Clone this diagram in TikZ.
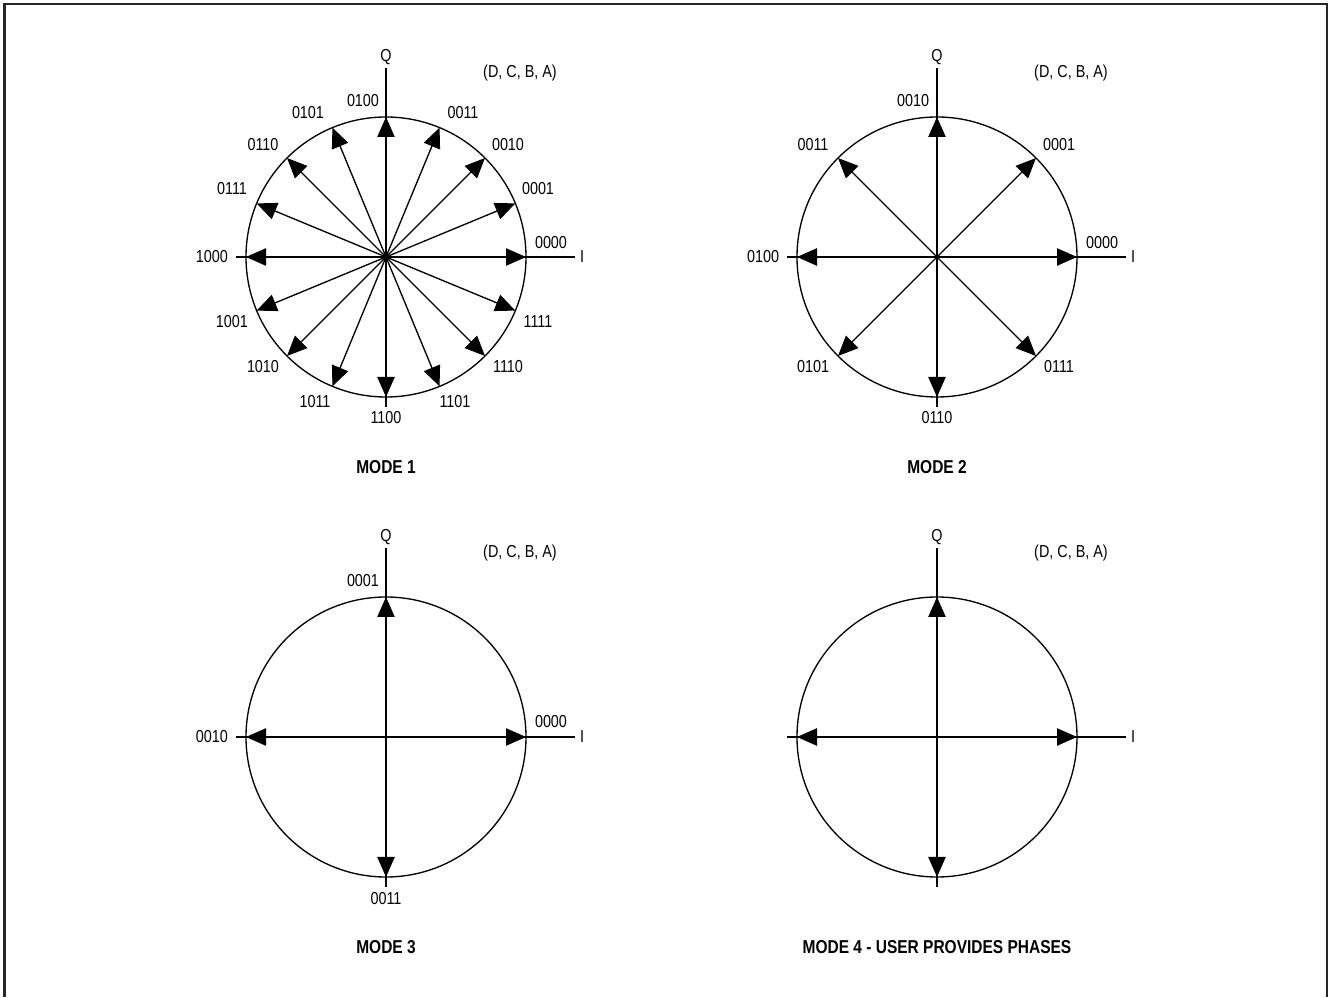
\documentclass[tikz,border=0pt]{standalone}
\usepackage{fontspec}
\setmainfont{Liberation Sans}[FakeStretch=0.83]
\usetikzlibrary{arrows.meta}

\begin{document}
\begin{tikzpicture}[x=0.75pt, y=0.75pt, font=\fontsize{13}{15}\selectfont,
	ring/.style={line width=1pt},
	iqaxis/.style={line width=1pt},
	vec/.style={-{Triangle[length=15pt, width=13pt]}, line width=1pt},
	modetitle/.style={font=\fontsize{14}{16}\selectfont\bfseries}]
	\useasboundingbox (0,0) rectangle (1329,997);
	\draw[line width=2pt, black!85] (4.5,0) -- (4.5,993) -- (1327,993) -- (1327,0);
	% circle, axes and names, the same in all four
	\foreach \n/\cx/\cy in {1/386/740, 2/937/740, 3/386/260, 4/937/260} {
		\begin{scope}[shift={(\cx,\cy)}]
			\coordinate (m\n) at (0,0);
			\draw[ring] (0,0) circle (140);
			\draw[iqaxis] (0,-150) -- (0,189);
			\draw[iqaxis] (-150,0) -- (189,0);
			\node (q\n) at (0,200) {Q};
			\node (i\n) at (196,0) {I};
			\node (dcba\n) at (134,184) {(D, C, B, A)};
		\end{scope}
	}
	% mode 1
	\foreach \a/\t/\lx/\ly in {0/0000/165/14, 22.5/0001/152/68, 45/0010/122/112, 67.5/0011/77/144,
		90/0100/-23/156, 112.5/0101/-78/144, 135/0110/-123/112, 157.5/0111/-154/68,
		180/1000/-174/0, 202.5/1001/-154/-65, 225/1010/-123/-110, 247.5/1011/-71/-145,
		270/1100/0/-161, 292.5/1101/69/-145, 315/1110/122/-110, 337.5/1111/152/-65} {
		\path (m1) ++(\a:140) coordinate (p1-\t);
		\draw[vec] (m1) -- (p1-\t);
		\path (m1) ++(\lx,\ly) node (t1-\t) {\t};
	}
	\node[modetitle] (mode1) at (386,530) {MODE 1};
	% mode 2
	\foreach \a/\t/\lx/\ly in {0/0000/165/14, 45/0001/122/112, 90/0010/-24/156, 135/0011/-124/112,
		180/0100/-174/0, 225/0101/-124/-110, 270/0110/0/-161, 315/0111/122/-110} {
		\path (m2) ++(\a:140) coordinate (p2-\t);
		\draw[vec] (m2) -- (p2-\t);
		\path (m2) ++(\lx,\ly) node (t2-\t) {\t};
	}
	\node[modetitle] (mode2) at (937,530) {MODE 2};
	% mode 3
	\foreach \a/\t/\lx/\ly in {0/0000/165/15, 90/0001/-23/156, 180/0010/-174/0, 270/0011/0/-162} {
		\path (m3) ++(\a:140) coordinate (p3-\t);
		\draw[vec] (m3) -- (p3-\t);
		\path (m3) ++(\lx,\ly) node (t3-\t) {\t};
	}
	\node[modetitle] (mode3) at (386,50) {MODE 3};
	% mode 4
	\foreach \a in {0,90,180,270} {
		\path (m4) ++(\a:140) coordinate (p4-\a);
		\draw[vec] (m4) -- (p4-\a);
	}
	\node[modetitle] (mode4) at (937,50) {MODE 4 - USER PROVIDES PHASES};
\end{tikzpicture}
\end{document}
